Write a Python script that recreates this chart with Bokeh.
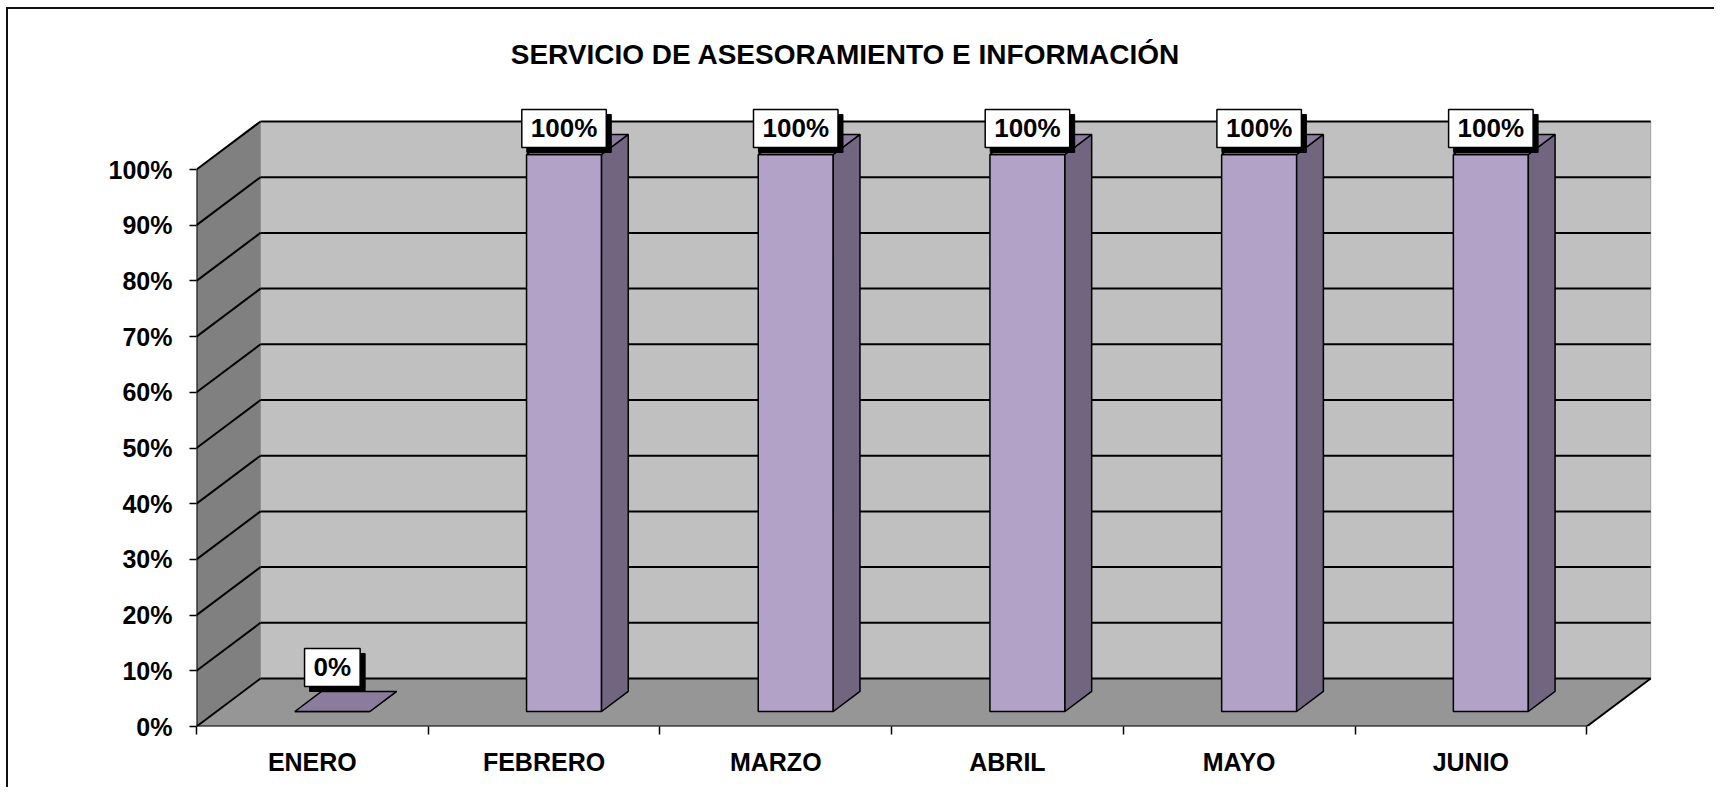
from bokeh.plotting import figure
from bokeh.models import FixedTicker, Label, Range1d
from bokeh.embed import file_html
from bokeh.resources import INLINE

# ---------------- data ----------------
title_text = "SERVICIO DE ASESORAMIENTO E INFORMACIÓN"
categories = ["ENERO", "FEBRERO", "MARZO", "ABRIL", "MAYO", "JUNIO"]
values = [0.0, 1.0, 1.0, 1.0, 1.0, 1.0]
value_labels = ["0%", "100%", "100%", "100%", "100%", "100%"]
y_ticks = [0.0, 0.1, 0.2, 0.3, 0.4, 0.5, 0.6, 0.7, 0.8, 0.9, 1.0]
y_tick_labels = ["0%", "10%", "20%", "30%", "40%", "50%", "60%", "70%", "80%", "90%", "100%"]

# ---------------- geometry / style ----------------
FONT = "Liberation Sans"
CAT_PX = 231.7          # pixels per category
VAL_PX = 557.0          # pixels per 100 %
DEPTH_X_PX = 64.0
DEPTH_Y_PX = 48.0
FRAME_W = 1502
FRAME_H = 707
n = len(categories)
DX = DEPTH_X_PX / CAT_PX
DY = DEPTH_Y_PX / VAL_PX
YMAX = y_ticks[-1]
BAR_W = 75.0 / CAT_PX
F0, F1 = 0.3125, 0.73   # bar front / back depth fractions

WALL_BACK = "#c0c0c0"
WALL_SIDE = "#808080"
FLOOR = "#969696"
BAR_FRONT = "#b3a2c8"
BAR_SIDE = "#716580"
BAR_TOP = "#8b7b9c"

p = figure(
    width=188 + FRAME_W + 18,
    height=10 + FRAME_H + 63,
    x_range=Range1d(0, FRAME_W / CAT_PX),
    y_range=Range1d(0, FRAME_H / VAL_PX),
    output_backend="svg",
    toolbar_location=None,
    min_border_left=188,
    min_border_right=18,
    min_border_top=10,
    min_border_bottom=63,
)
p.styles = {"border-left": "2px solid #111111", "border-top": "2px solid #111111",
            "margin-left": "6px", "margin-top": "7px"}
p.background_fill_color = "white"
p.border_fill_color = "white"
p.outline_line_color = None
p.xgrid.visible = False
p.ygrid.visible = False

# ---- walls & floor ----
p.patch([DX, n + DX, n + DX, DX], [DY, DY, YMAX + DY, YMAX + DY],
        fill_color=WALL_BACK, line_color="#a0a0a0", line_width=1)
p.patch([0, DX, DX, 0], [0, DY, YMAX + DY, YMAX],
        fill_color=WALL_SIDE, line_color=None)
p.patch([0, n, n + DX, DX], [0, 0, DY, DY],
        fill_color=FLOOR, line_color=None)

# gridlines on back wall and side wall
gx, gy = [], []
for t in y_ticks:
    gx.append([DX, n + DX]); gy.append([t + DY, t + DY])
    gx.append([0, DX]); gy.append([t, t + DY])
p.multi_line(gx, gy, line_color="#000000", line_width=2)

# floor / wall edges
p.multi_line([[0, n], [n, n + DX], [0, 0]], [[0, 0], [0, DY], [0, YMAX]],
             line_color="#000000", line_width=2)

# ---- bars ----
fx, fy, sx, sy, tx, ty = [], [], [], [], [], []
for i, v in enumerate(values):
    c = i + 0.5
    l = c - BAR_W / 2
    r = c + BAR_W / 2
    fx.append([l + F0 * DX, r + F0 * DX, r + F0 * DX, l + F0 * DX])
    fy.append([F0 * DY, F0 * DY, v + F0 * DY, v + F0 * DY])
    sx.append([r + F0 * DX, r + F1 * DX, r + F1 * DX, r + F0 * DX])
    sy.append([F0 * DY, F1 * DY, v + F1 * DY, v + F0 * DY])
    tx.append([l + F0 * DX, r + F0 * DX, r + F1 * DX, l + F1 * DX])
    ty.append([v + F0 * DY, v + F0 * DY, v + F1 * DY, v + F1 * DY])
p.patches(fx, fy, fill_color=BAR_FRONT, line_color="#000000", line_width=1.5)
p.patches(sx, sy, fill_color=BAR_SIDE, line_color="#000000", line_width=1.5)
p.patches(tx, ty, fill_color=BAR_TOP, line_color="#000000", line_width=1.5)

# ---- data labels (white box with black shadow) ----
for i, (v, txt) in enumerate(zip(values, value_labels)):
    c = i + 0.5
    lift = 24 if v == 0 else 6
    common = dict(x=c + F0 * DX, y=v + F1 * DY, text=txt,
                  text_font=FONT, text_font_style="bold", text_font_size="26px",
                  text_align="center", text_baseline="middle",
                  padding={"x": 9, "y": 4})
    p.add_layout(Label(x_offset=5, y_offset=lift - 5, text_color="#000000",
                       background_fill_color="#000000", border_line_color="#000000",
                       **common))
    p.add_layout(Label(x_offset=0, y_offset=lift, text_color="#000000",
                       background_fill_color="#ffffff", border_line_color="#000000",
                       border_line_width=1.5, **common))

# ---- title ----
p.add_layout(Label(x=(847 - 198) / CAT_PX, y=(727 - 55) / VAL_PX, text=title_text,
                   text_font=FONT, text_font_style="bold", text_font_size="28px",
                   text_align="center", text_baseline="middle", text_color="#000000"))

# ---- axes ----
yax = p.yaxis[0]
yax.ticker = FixedTicker(ticks=y_ticks)
yax.major_label_overrides = {t: s for t, s in zip(y_ticks, y_tick_labels)}
yax.axis_line_color = None
yax.major_tick_in = 0
yax.major_tick_out = 7
yax.major_tick_line_color = "#000000"
yax.major_tick_line_width = 1.5
yax.minor_tick_line_color = None
yax.major_label_standoff = 17
yax.major_label_text_font = FONT
yax.major_label_text_font_style = "bold"
yax.major_label_text_font_size = "25px"
yax.major_label_text_color = "#000000"

xax = p.xaxis[0]
cat_centers = [i + 0.5 for i in range(n)]
xax.ticker = FixedTicker(ticks=cat_centers, minor_ticks=list(range(n + 1)))
xax.major_label_overrides = {t: s for t, s in zip(cat_centers, categories)}
xax.axis_line_color = None
xax.major_tick_line_color = None
xax.major_tick_in = 0
xax.major_tick_out = 0
xax.minor_tick_in = 0
xax.minor_tick_out = 8
xax.minor_tick_line_color = "#000000"
xax.minor_tick_line_width = 1.5
xax.major_label_standoff = 13
xax.major_label_text_font = FONT
xax.major_label_text_font_style = "bold"
xax.major_label_text_font_size = "25px"
xax.major_label_text_color = "#000000"

open("out.html", "w").write(file_html(p, INLINE))
